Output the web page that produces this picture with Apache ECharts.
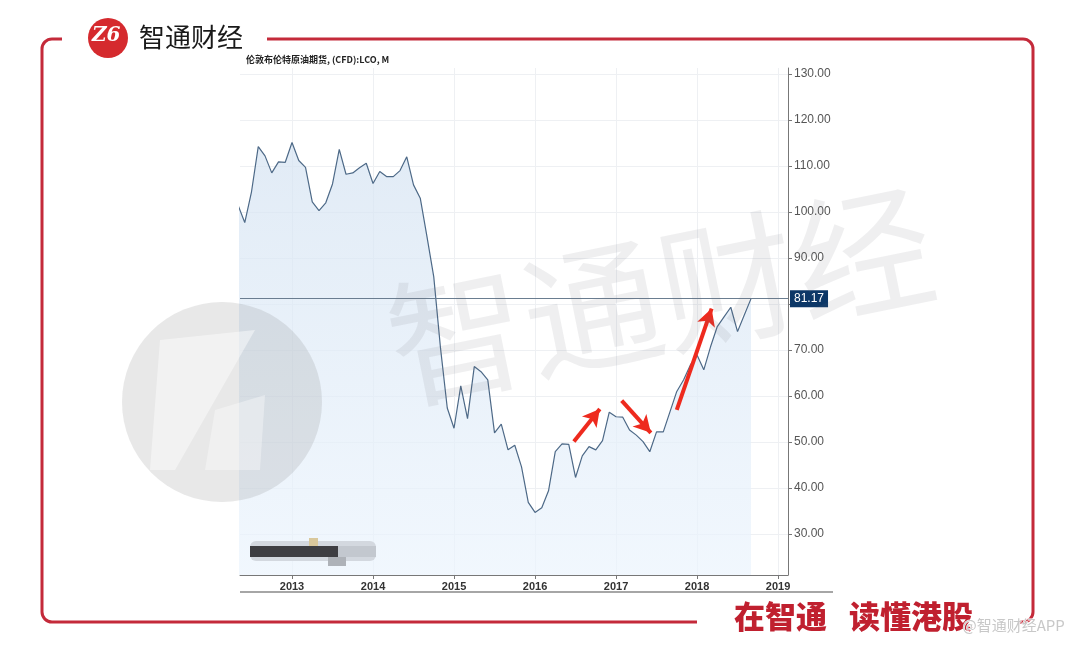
<!DOCTYPE html>
<html>
<head>
<meta charset="utf-8">
<title>伦敦布伦特原油期货</title>
<script src="https://cdn.jsdelivr.net/npm/echarts@6/dist/echarts.min.js"></script>
<style>
  html, body { margin: 0; padding: 0; background: #fff; }
  #main { width: 1080px; height: 647px; }
</style>
</head>
<body>
<div id="main"></div>
<script>
// 月度收盘价 (2012-05 ~ 2018-09)
const months = [
  '2012-05', '2012-06', '2012-07', '2012-08', '2012-09', '2012-10', '2012-11', '2012-12',
  '2013-01', '2013-02', '2013-03', '2013-04', '2013-05', '2013-06', '2013-07', '2013-08', '2013-09', '2013-10', '2013-11', '2013-12',
  '2014-01', '2014-02', '2014-03', '2014-04', '2014-05', '2014-06', '2014-07', '2014-08', '2014-09', '2014-10', '2014-11', '2014-12',
  '2015-01', '2015-02', '2015-03', '2015-04', '2015-05', '2015-06', '2015-07', '2015-08', '2015-09', '2015-10', '2015-11', '2015-12',
  '2016-01', '2016-02', '2016-03', '2016-04', '2016-05', '2016-06', '2016-07', '2016-08', '2016-09', '2016-10', '2016-11', '2016-12',
  '2017-01', '2017-02', '2017-03', '2017-04', '2017-05', '2017-06', '2017-07', '2017-08', '2017-09', '2017-10', '2017-11', '2017-12',
  '2018-01', '2018-02', '2018-03', '2018-04', '2018-05', '2018-06', '2018-07', '2018-08', '2018-09'
]
const prices = [
  101.5, 97.7, 104.4, 114.2, 112.2, 108.5, 110.9, 110.8,
  115.1, 111.2, 109.7, 102.2, 100.3, 102.0, 106.1, 113.6, 108.2, 108.5, 109.6, 110.6,
  106.2, 108.8, 107.7, 107.7, 109.0, 112.0, 105.9, 103.0, 94.6, 85.9, 70.4, 57.4,
  53.0, 62.2, 55.1, 66.4, 65.3, 63.5, 52.0, 53.9, 48.3, 49.3, 44.6, 36.9,
  34.7, 35.7, 39.4, 47.9, 49.6, 49.5, 42.3, 47.0, 49.0, 48.3, 50.3, 56.5,
  55.5, 55.4, 52.6, 51.5, 50.1, 47.9, 52.2, 52.2, 56.6, 61.0, 63.5, 66.7,
  68.9, 65.7, 70.7, 75.1, 77.2, 79.3, 74.0, 77.6, 81.17
]
const lastPrice = 81.17
const yearTicks = [2013, 2014, 2015, 2016, 2017, 2018, 2019]
const priceTicks = [30, 40, 50, 60, 70, 80, 90, 100, 110, 120, 130]

// 红色箭头标注 [起点, 终点] (年份, 价格)
const arrows = [
  [[2016.48, 50.1], [2016.80, 57.2]],
  [[2017.07, 59.0], [2017.43, 52.0]],
  [[2017.75, 57.0], [2018.18, 79.0]]
]

const toYear = (s) => {
  const [y, m] = s.split('-').map(Number)
  return y + (m - 1) / 12
}
const seriesData = months.map((m, i) => [toYear(m), prices[i]])

const chart = echarts.init(document.getElementById('main'))
const red = '#c42a3a'

const option = {
  backgroundColor: '#fff',
  animation: false,
  title: {
    text: '伦敦布伦特原油期货, (CFD):LCO, M',
    left: 241,
    top: 50,
    textStyle: {
      fontSize: 9,
      fontWeight: 'bold',
      color: '#222',
      fontFamily: 'Noto Sans CJK SC'
    }
  },
  grid: {
    left: 240,
    right: 292,
    top: 68,
    bottom: 72
  },
  xAxis: {
    type: 'value',
    min: 2012.358,
    max: 2019.123,
    axisLine: { show: true, lineStyle: { color: '#777', width: 1 } },
    axisTick: {
      show: true,
      length: 4,
      customValues: yearTicks,
      lineStyle: { color: '#777' }
    },
    axisLabel: {
      customValues: yearTicks,
      formatter: (v) => String(Math.round(v)),
      fontSize: 11,
      fontWeight: 'bold',
      color: '#333',
      margin: 6,
      fontFamily: 'Liberation Sans'
    },
    splitLine: { show: true, lineStyle: { color: '#eef0f3' } }
  },
  yAxis: {
    type: 'value',
    position: 'right',
    min: 21.1,
    max: 131.3,
    axisLine: { show: true, lineStyle: { color: '#777', width: 1 } },
    axisTick: {
      show: true,
      length: 4,
      customValues: priceTicks,
      lineStyle: { color: '#777' }
    },
    axisLabel: {
      customValues: priceTicks,
      formatter: (v) => v.toFixed(2),
      fontSize: 12,
      color: '#555',
      margin: 6,
      fontFamily: 'Liberation Sans'
    },
    splitLine: { show: true, lineStyle: { color: '#eef0f3' } }
  },
  series: [
    {
      type: 'line',
      data: seriesData,
      symbol: 'none',
      lineStyle: { color: '#4d6987', width: 1.2 },
      areaStyle: {
        color: new echarts.graphic.LinearGradient(0, 0, 0, 1, [
          { offset: 0, color: '#d5e3f2' },
          { offset: 1, color: '#ebf4fd' }
        ])
      },
      markLine: {
        silent: true,
        animation: false,
        symbol: 'none',
        data: [
          {
            yAxis: lastPrice,
            lineStyle: { color: '#6a7d90', width: 1, type: 'solid' },
            label: {
              show: true,
              position: 'end',
              distance: 2,
              formatter: lastPrice.toFixed(2),
              color: '#fff',
              backgroundColor: '#0c3767',
              padding: [3, 4, 2, 4],
              fontSize: 12,
              fontFamily: 'Liberation Sans'
            }
          },
          ...arrows.map(([a, b]) => [
            { coord: a, symbol: 'none' },
            {
              coord: b,
              symbol: 'arrow',
              symbolSize: [14, 17],
              lineStyle: { color: '#ee2a1e', width: 4, type: 'solid' },
              label: { show: false }
            }
          ])
        ]
      }
    }
  ],
  graphic: [
    // 红色边框
    {
      type: 'rect',
      z: 20,
      shape: { x: 42, y: 39, width: 991, height: 583, r: 10 },
      style: { fill: 'none', stroke: red, lineWidth: 3 }
    },
    { type: 'rect', z: 21, shape: { x: 62, y: 33, width: 205, height: 12 }, style: { fill: '#fff' } },
    { type: 'rect', z: 21, shape: { x: 697, y: 615, width: 322, height: 12 }, style: { fill: '#fff' } },
    // 顶部标志
    { type: 'circle', z: 22, shape: { cx: 108, cy: 38, r: 20 }, style: { fill: '#d52a2e' } },
    {
      type: 'text', z: 23, left: 92, top: 26,
      style: { text: 'Z6', fill: '#fff', font: 'italic bold 20px "DejaVu Serif"' }
    },
    {
      type: 'text', z: 22, left: 139, top: 24,
      style: { text: '智通财经', fill: '#1a1a1a', font: '26px "Noto Sans CJK SC"' }
    },
    // 底部标语
    {
      type: 'text', z: 22, left: 734, top: 601,
      style: { text: '在智通', fill: '#c0202f', font: '900 31px "Noto Sans CJK SC"' }
    },
    {
      type: 'text', z: 22, left: 849, top: 601,
      style: { text: '读懂港股', fill: '#c0202f', font: '900 31px "Noto Sans CJK SC"' }
    },
    {
      type: 'text', z: 24, left: 962, top: 617,
      style: {
        text: '@智通财经APP', fill: '#c8c8c8', font: '15px "Noto Sans CJK SC"',
        stroke: '#fff', lineWidth: 1
      }
    },
    // 水印
    {
      type: 'circle', z: 10, silent: true,
      shape: { cx: 222, cy: 402, r: 100 },
      style: { fill: 'rgba(110,110,115,0.16)' }
    },
    {
      type: 'polygon', z: 11, silent: true,
      shape: { points: [[160, 340], [255, 330], [175, 470], [150, 470]] },
      style: { fill: 'rgba(255,255,255,0.45)' }
    },
    {
      type: 'polygon', z: 11, silent: true,
      shape: { points: [[215, 410], [265, 395], [260, 470], [205, 470]] },
      style: { fill: 'rgba(255,255,255,0.35)' }
    },
    {
      type: 'text', z: 10, silent: true,
      x: 660, y: 295, rotation: 0.2,
      style: {
        text: '智通财经', fill: 'rgba(110,110,115,0.11)',
        font: '138px "Noto Sans CJK SC"', align: 'center', verticalAlign: 'middle'
      }
    },
    // 打码区域
    { type: 'rect', z: 12, shape: { x: 250, y: 541, width: 126, height: 20, r: 6 }, style: { fill: '#d3d8df' } },
    { type: 'rect', z: 13, shape: { x: 250, y: 546, width: 88, height: 11 }, style: { fill: '#3e3e42' } },
    { type: 'rect', z: 13, shape: { x: 338, y: 546, width: 38, height: 11 }, style: { fill: '#c3c8cf' } },
    { type: 'rect', z: 13, shape: { x: 309, y: 538, width: 9, height: 8 }, style: { fill: '#d9c89c' } },
    { type: 'rect', z: 13, shape: { x: 328, y: 557, width: 18, height: 9 }, style: { fill: '#aeb2b8' } },
    // 底部横线
    {
      type: 'line', z: 12,
      shape: { x1: 240, y1: 592, x2: 833, y2: 592 },
      style: { stroke: '#888', lineWidth: 1.5 }
    }
  ]
}

option && chart.setOption(option)
</script>
</body>
</html>
